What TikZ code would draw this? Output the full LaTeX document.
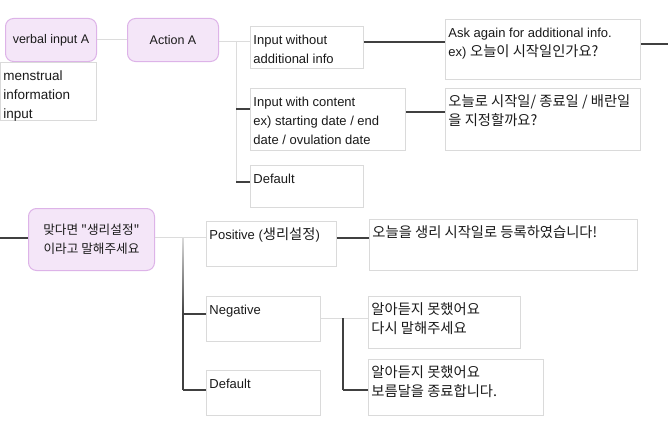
\documentclass[tikz,border=0pt]{standalone}
\usepackage{fontspec}
\setmainfont{Liberation Sans}
\newfontfamily\kr[Scale=1.1]{Noto Sans CJK KR}
\definecolor{rndfill}{HTML}{F4E6F8}
\definecolor{rnddraw}{HTML}{DDB3E8}
\definecolor{boxdraw}{HTML}{DADADA}
\definecolor{lightline}{HTML}{DCDCDC}
\definecolor{darkline}{HTML}{404040}
\definecolor{txt}{HTML}{1A1A1A}
\tikzset{
  tb/.style={draw=boxdraw, line width=0.9pt, inner xsep=3pt, inner ysep=0pt, anchor=north west, text=txt},
  rnd/.style={draw=rnddraw, fill=rndfill, line width=1pt, rounded corners=8pt, align=center, anchor=north west, inner sep=0pt, text=txt, font=\fontsize{12.5}{19}\selectfont},
  lite/.style={draw=lightline, line width=0.9pt},
  dark/.style={draw=darkline, line width=1.2pt}
}
\newcommand\tbox[6]{\node[tb] (#1) at (#2,#3) {\parbox[t][#5pt][t]{\dimexpr#4pt-6pt\relax}{\raggedright\rule{0pt}{18pt}#6}};}
\begin{document}
\begin{tikzpicture}[x=1pt,y=-1pt,font=\fontsize{13}{19}\selectfont]
\path[use as bounding box, fill=white] (0,0) rectangle (668,420);

% rounded nodes
\node[rnd, minimum width=91pt, minimum height=43pt] (va) at (5,18) {verbal input A};
\node[rnd, minimum width=91pt, minimum height=43pt] (aa) at (127,18) {Action A};
\node[rnd, minimum width=126pt, minimum height=62pt, font=\fontsize{11.5}{19}\selectfont] (md) at (28,208) {{\kr 맞다면 "생리설정"}\\{\kr 이라고 말해주세요}};

% text boxes
\tbox{mi}{0}{62}{96}{58}{{\fontsize{13.5}{19}\selectfont menstrual\\information\\input}}
\tbox{iw}{250}{26}{113}{42}{Input without\\additional info}
\tbox{iwc}{250}{88}{155}{62}{Input with content\\ex) starting date / end\\date / ovulation date}
\tbox{dfa}{250}{165}{113}{42}{Default}
\tbox{ask}{445}{19}{195}{60}{Ask again for additional info.\\ex) {\kr 오늘이 시작일인가요?}}
\tbox{ol}{445}{88}{195}{62}{{\kr 오늘로 시작일/ 종료일 / 배란일}\\{\kr 을 지정할까요?}}
\tbox{pos}{206}{221}{130}{45}{Positive ({\kr 생리설정})}
\tbox{neg}{206}{296}{114}{45}{Negative}
\tbox{dfb}{206}{370}{114}{45}{Default}
\tbox{oe}{369}{219}{268}{51}{{\kr 오늘을 생리 시작일로 등록하였습니다!}}
\tbox{ae}{368}{296}{152}{52}{{\kr 알아듣지 못했어요}\\{\kr 다시 말해주세요}}
\tbox{af}{368}{359}{175}{56}{{\kr 알아듣지 못했어요}\\{\kr 보름달을 종료합니다.}}

% free ends
\coordinate (rend) at (668,44);
\coordinate (lend) at (0,238);

% connectors top
\draw[lite] (va.east |- 0,39) -- (aa.west |- 0,39);
\draw[lite] (aa.east |- 0,41) -- (iw.west |- 0,41);
\draw[lite] (236,41) -- (236,182);
\draw[dark] (236,109) -- (iwc.west |- 0,109);
\draw[dark] (236,182) -- (dfa.west |- 0,182);
\draw[dark] (iw.east |- 0,42) -- (ask.west |- 0,42);
\draw[dark] (ask.east |- rend) -- (rend);
\draw[dark] (iwc.east |- 0,112) -- (ol.west |- 0,112);

% connectors bottom
\draw[dark] (lend) -- (md.west |- lend);
\draw[lite] (md.east |- 0,237) -- (pos.west |- 0,237);
\shade[top color=lightline, bottom color=darkline] (182.4,237) rectangle (183.6,314);
\draw[dark] (183,314) -- (183,390);
\draw[dark] (183,314) -- (neg.west |- 0,314);
\draw[dark] (183,390) -- (dfb.west |- 0,390);
\draw[dark] (pos.east |- 0,238) -- (oe.west |- 0,238);
\draw[lite] (neg.east |- 0,318) -- (ae.west |- 0,318);
\draw[dark] (343,318) -- (343,390);
\draw[dark] (343,390) -- (af.west |- 0,390);
\end{tikzpicture}
\end{document}
